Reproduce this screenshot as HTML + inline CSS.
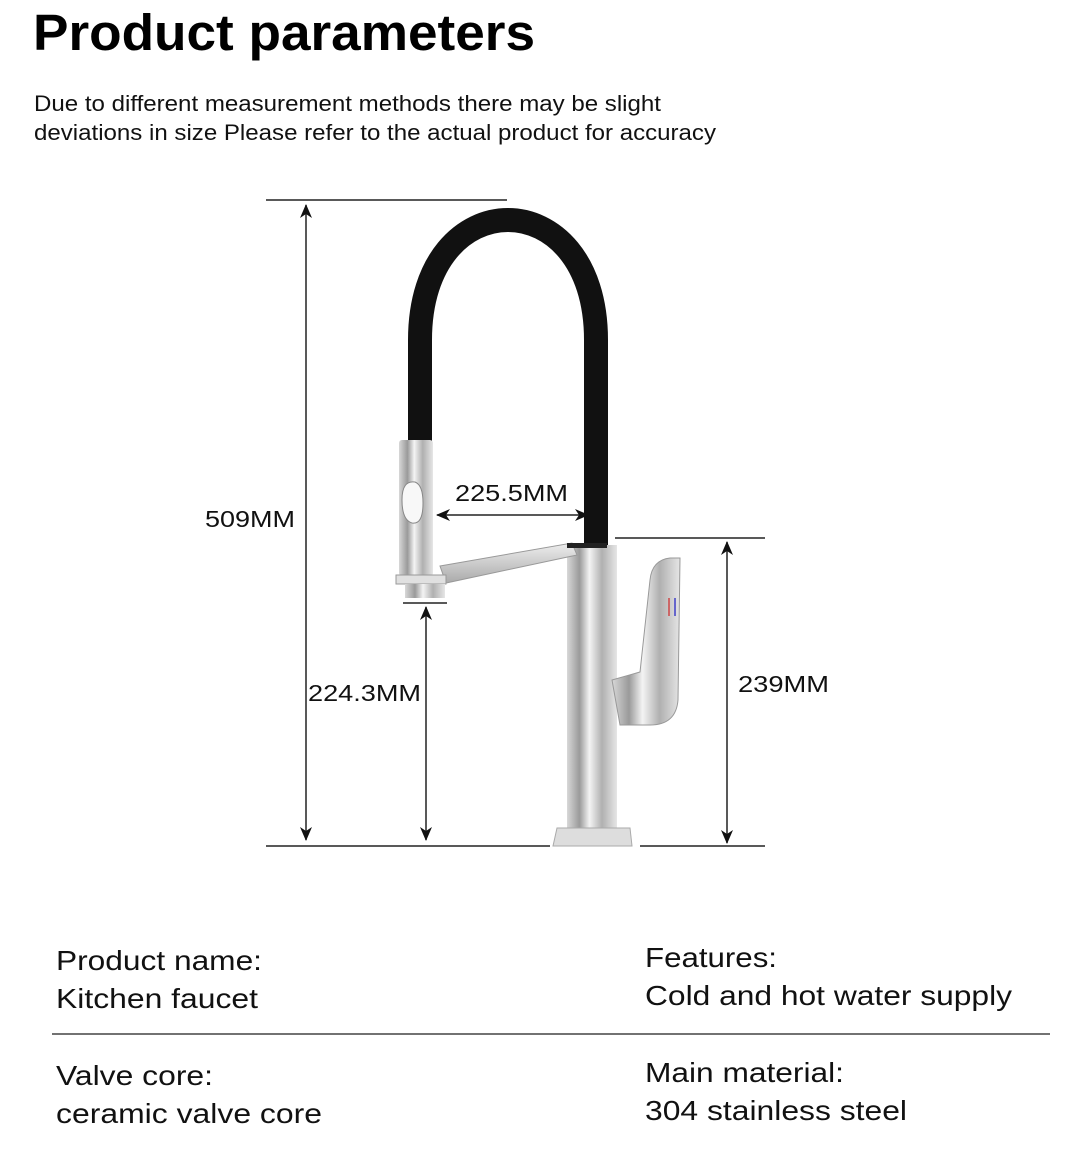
<!DOCTYPE html>
<html><head><meta charset="utf-8"><style>
html,body{margin:0;padding:0;background:#fff;}
body{width:1080px;height:1144px;overflow:hidden;}
</style></head><body>
<svg width="1080" height="1144" viewBox="0 0 1080 1144" xmlns="http://www.w3.org/2000/svg" font-family="Liberation Sans, sans-serif">
<defs>
<linearGradient id="chrome" x1="0" x2="1" y1="0" y2="0">
<stop offset="0" stop-color="#d8d8d8"/><stop offset="0.25" stop-color="#9a9a9a"/><stop offset="0.45" stop-color="#f4f4f4"/><stop offset="0.7" stop-color="#b0b0b0"/><stop offset="1" stop-color="#e6e6e6"/>
</linearGradient>
<linearGradient id="arm" x1="0" x2="0" y1="0" y2="1">
<stop offset="0" stop-color="#eee"/><stop offset="1" stop-color="#aaa"/>
</linearGradient>
<marker id="ah" markerWidth="14" markerHeight="12" refX="13" refY="6" orient="auto-start-reverse" markerUnits="userSpaceOnUse"><path d="M0,0 L14,6 L0,12 L4,6 Z" fill="#111"/></marker>
</defs>
<text x="33" y="50" font-size="51" font-weight="bold" fill="#000" textLength="502" lengthAdjust="spacingAndGlyphs">Product parameters</text>
<text x="34" y="111" font-size="22" fill="#111" textLength="627" lengthAdjust="spacingAndGlyphs">Due to different measurement methods there may be slight</text>
<text x="34" y="140" font-size="22" fill="#111" textLength="682" lengthAdjust="spacingAndGlyphs">deviations in size Please refer to the actual product for accuracy</text>

<g stroke="#222" stroke-width="1.5">
<line x1="266" y1="200" x2="507" y2="200"/>
<line x1="266" y1="846" x2="550" y2="846"/>
<line x1="640" y1="846" x2="765" y2="846"/>
<line x1="615" y1="538" x2="765" y2="538"/>
<line x1="403" y1="603" x2="447" y2="603"/>
<line x1="306" y1="205" x2="306" y2="840" marker-start="url(#ah)" marker-end="url(#ah)"/>
<line x1="426" y1="607" x2="426" y2="840" marker-start="url(#ah)" marker-end="url(#ah)"/>
<line x1="727" y1="542" x2="727" y2="843" marker-start="url(#ah)" marker-end="url(#ah)"/>
<line x1="437" y1="515" x2="588" y2="515" marker-start="url(#ah)" marker-end="url(#ah)"/>
</g>
<text x="205" y="527" font-size="23" fill="#111" textLength="90" lengthAdjust="spacingAndGlyphs">509MM</text>
<text x="308" y="701" font-size="23" fill="#111" textLength="113" lengthAdjust="spacingAndGlyphs">224.3MM</text>
<text x="738" y="692" font-size="23" fill="#111" textLength="91" lengthAdjust="spacingAndGlyphs">239MM</text>
<text x="455" y="501" font-size="23" fill="#111" textLength="113" lengthAdjust="spacingAndGlyphs">225.5MM</text>

<!-- hose -->
<path d="M420 450 L420 340 C420 180 596 180 596 340 L596 548" fill="none" stroke="#111" stroke-width="24"/>
<!-- body -->
<rect x="567" y="545" width="50" height="290" fill="url(#chrome)"/>
<polygon points="553,846 632,846 630,828 557,828" fill="#ddd" stroke="#aaa"/>
<!-- handle -->
<path d="M612 680 L640 672 L650 580 Q652 560 670 558 L680 558 L678 700 Q676 725 650 725 L620 725 Z" fill="url(#chrome)" stroke="#999" stroke-width="1"/>
<rect x="668" y="598" width="2" height="18" fill="#c66"/><rect x="674" y="598" width="2" height="18" fill="#66c"/>
<!-- arm -->
<polygon points="440,566 572,543 577,555 446,583" fill="url(#arm)" stroke="#999" stroke-width="1"/>
<rect x="567" y="543" width="40" height="5" fill="#222"/>
<!-- spray head -->
<rect x="399" y="440" width="34" height="136" rx="3" fill="url(#chrome)"/>
<path d="M402 500 Q402 480 415 482 Q423 485 423 503 Q423 525 412 523 Q402 520 402 500Z" fill="#f8f8f8" stroke="#888"/>
<rect x="396" y="575" width="50" height="9" fill="#e0e0e0" stroke="#999"/>
<rect x="405" y="584" width="40" height="14" fill="url(#chrome)"/>

<g font-size="28" fill="#111">
<text x="56" y="970" textLength="206" lengthAdjust="spacingAndGlyphs">Product name:</text>
<text x="56" y="1008" textLength="202" lengthAdjust="spacingAndGlyphs">Kitchen faucet</text>
<text x="645" y="967" textLength="132" lengthAdjust="spacingAndGlyphs">Features:</text>
<text x="645" y="1005" textLength="367" lengthAdjust="spacingAndGlyphs">Cold and hot water supply</text>
<text x="56" y="1085" textLength="157" lengthAdjust="spacingAndGlyphs">Valve core:</text>
<text x="56" y="1123" textLength="266" lengthAdjust="spacingAndGlyphs">ceramic valve core</text>
<text x="645" y="1082" textLength="199" lengthAdjust="spacingAndGlyphs">Main material:</text>
<text x="645" y="1120" textLength="262" lengthAdjust="spacingAndGlyphs">304 stainless steel</text>
</g>
<line x1="52" y1="1034" x2="1050" y2="1034" stroke="#444" stroke-width="1.5"/>
</svg>
</body></html>
